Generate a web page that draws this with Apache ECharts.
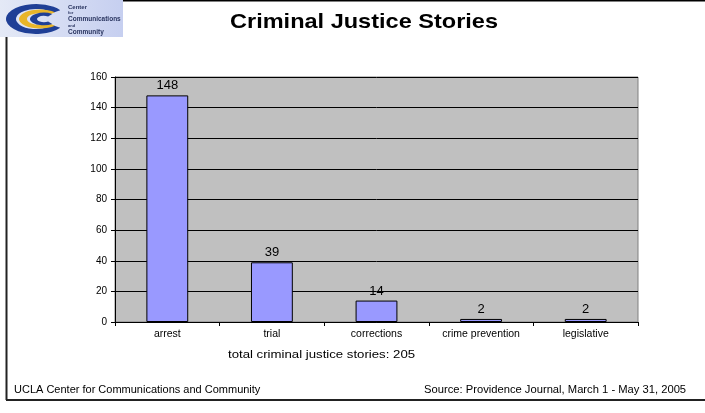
<!DOCTYPE html>
<html>
<head>
<meta charset="utf-8">
<script src="https://cdn.jsdelivr.net/npm/echarts@6/dist/echarts.min.js"></script>
<style>
  html, body { margin: 0; padding: 0; background: #fff; }
  #chart { width: 705px; height: 413px; }
</style>
</head>
<body>
<div id="chart"></div>
<script>
// Story counts by criminal justice category
const categories = ['arrest', 'trial', 'corrections', 'crime prevention', 'legislative'];
const stories = [148, 39, 14, 2, 2];
const yTicks = { min: 0, max: 160, interval: 20 };
const totalStories = 205;

const FONT = '"Liberation Sans", Arial, sans-serif';
const chart = echarts.init(document.getElementById('chart'), null, { renderer: 'canvas' });

const logoTextLines = [
  { t: 'Center', y: 4, s: 6 },
  { t: 'for', y: 11, s: 4 },
  { t: 'Communications', y: 16, s: 6.5 },
  { t: 'and', y: 24, s: 4 },
  { t: 'Community', y: 29, s: 6.5 }
];

// wide text drawn with a horizontal stretch, anchored at its left edge (or centre)
function wideText(x, y, text, font, sx, align) {
  return {
    type: 'text', x: x, y: y, scaleX: sx,
    style: { x: 0, y: 0, text: text, font: font, fill: '#000', textAlign: align || 'left', textVerticalAlign: 'top' }
  };
}

const graphic = [
  // page frame
  { type: 'line', shape: { x1: 123, y1: 0.5, x2: 705, y2: 0.5 }, style: { stroke: '#000', lineWidth: 2 } },
  { type: 'line', shape: { x1: 6.5, y1: 37, x2: 6.5, y2: 400 }, style: { stroke: '#222', lineWidth: 2 } },
  { type: 'line', shape: { x1: 6, y1: 400, x2: 705, y2: 400 }, style: { stroke: '#222', lineWidth: 2 } },
  // logo panel
  {
    type: 'rect', shape: { x: 0, y: 0, width: 123, height: 37 },
    style: {
      fill: new echarts.graphic.LinearGradient(0, 0, 1, 0, [
        { offset: 0, color: '#e4e9f6' }, { offset: 1, color: '#c6cff0' }
      ])
    }
  },
  // outer blue C
  { type: 'sector', x: 36, y: 19, scaleY: 0.5, shape: { cx: 0, cy: 0, r: 30, r0: 20, startAngle: Math.PI * 0.2, endAngle: Math.PI * 1.8 }, style: { fill: '#1f3f96' } },
  // gold crescent
  { type: 'sector', x: 40, y: 19, scaleY: 0.45, shape: { cx: 0, cy: 0, r: 21, r0: 13, startAngle: Math.PI * 0.25, endAngle: Math.PI * 1.75 }, style: { fill: '#e8b52a' } },
  // inner blue C
  { type: 'sector', x: 44, y: 19, scaleY: 0.45, shape: { cx: 0, cy: 0, r: 14, r0: 7, startAngle: Math.PI * 0.3, endAngle: Math.PI * 1.7 }, style: { fill: '#1f3f96' } },
  // chart title
  wideText(364, 12, 'Criminal Justice Stories', 'bold 21px ' + FONT, 1.12, 'center'),
  // total line under the axis
  wideText(228, 349, 'total criminal justice stories: ' + totalStories, '11px ' + FONT, 1.2),
  // footer
  wideText(14, 385, 'UCLA Center for Communications and Community', '10px ' + FONT, 1.1),
  wideText(424, 385, 'Source: Providence Journal, March 1 - May 31, 2005', '10px ' + FONT, 1.12)
];

logoTextLines.forEach(function (l) {
  graphic.push({
    type: 'text', left: 68, top: l.y,
    style: { text: l.t, font: 'bold ' + l.s + 'px ' + FONT, fill: '#2a3560' }
  });
});

chart.setOption({
  backgroundColor: '#fff',
  animation: false,
  textStyle: { fontFamily: FONT },
  grid: {
    left: 115, right: 67, top: 77, bottom: 91,
    show: true, backgroundColor: '#c0c0c0', borderColor: '#808080', borderWidth: 1
  },
  xAxis: {
    type: 'category',
    data: categories,
    axisLine: { lineStyle: { color: '#000', width: 1 } },
    axisTick: { show: true, length: 4, lineStyle: { color: '#000' } },
    axisLabel: { color: '#000', fontSize: 10.5, margin: 7 }
  },
  yAxis: {
    type: 'value',
    min: yTicks.min, max: yTicks.max, interval: yTicks.interval,
    axisLine: { show: true, lineStyle: { color: '#000', width: 1 } },
    axisTick: { show: true, length: 4, lineStyle: { color: '#000' } },
    axisLabel: { color: '#000', fontSize: 10, margin: 8 },
    splitLine: { show: true, lineStyle: { color: '#000', width: 1 } }
  },
  series: [{
    type: 'bar',
    data: stories,
    barWidth: '40%',
    itemStyle: { color: '#9999ff', borderColor: '#000', borderWidth: 1 },
    label: { show: true, position: 'top', distance: 3, color: '#000', fontSize: 13 }
  }],
  graphic: graphic
});
</script>
</body>
</html>
